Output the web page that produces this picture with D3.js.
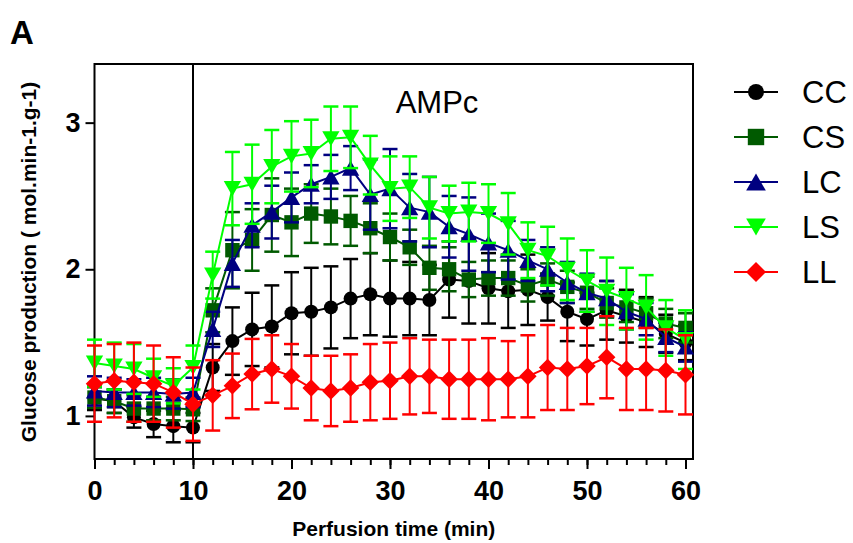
<!DOCTYPE html>
<html>
<head>
<meta charset="utf-8">
<script src="https://cdn.jsdelivr.net/npm/d3@7"></script>
<style>
  html, body { margin: 0; padding: 0; background: #fff; }
  svg { display: block; font-family: "Liberation Sans", Arial, sans-serif; }
</style>
</head>
<body>
<svg id="chart" width="853" height="543"></svg>
<script>
// ---- data ----
const time = [0,2,4,6,8,10,12,14,16,18,20,22,24,26,28,30,32,34,36,38,40,42,44,46,48,50,52,54,56,58,60];

const CC     = [1.12,1.10,0.99,0.945,0.93,0.92,1.33,1.51,1.59,1.61,1.70,1.71,1.74,1.80,1.83,1.80,1.80,1.79,1.93,1.92,1.87,1.85,1.86,1.81,1.71,1.66,1.72,1.68,1.64,1.56,1.50];
const CC_sem = [0.08,0.08,0.07,0.09,0.11,0.10,0.16,0.23,0.25,0.28,0.28,0.30,0.28,0.27,0.28,0.26,0.25,0.24,0.26,0.29,0.24,0.25,0.24,0.16,0.20,0.18,0.20,0.18,0.17,0.13,0.12];

const CS     = [1.125,1.10,1.05,1.05,1.05,1.045,1.72,2.13,2.20,2.37,2.32,2.38,2.36,2.33,2.28,2.22,2.15,2.01,2.00,1.93,1.94,1.94,1.89,1.93,1.88,1.84,1.77,1.74,1.70,1.63,1.60];
const CS_sem = [0.07,0.08,0.09,0.08,0.08,0.08,0.15,0.26,0.21,0.25,0.23,0.20,0.19,0.17,0.17,0.16,0.12,0.15,0.15,0.12,0.12,0.12,0.11,0.11,0.11,0.11,0.10,0.10,0.10,0.10,0.10];

const LC     = [1.17,1.16,1.16,1.16,1.15,1.16,1.59,2.04,2.30,2.39,2.49,2.58,2.63,2.69,2.51,2.55,2.42,2.39,2.29,2.24,2.18,2.13,2.06,2.00,1.91,1.84,1.80,1.71,1.66,1.535,1.47];
const LC_sem = [0.10,0.10,0.09,0.10,0.10,0.10,0.12,0.16,0.15,0.18,0.17,0.13,0.15,0.15,0.24,0.27,0.23,0.24,0.21,0.25,0.20,0.20,0.14,0.15,0.14,0.13,0.12,0.12,0.11,0.10,0.10];

const LS     = [1.36,1.34,1.32,1.26,1.205,1.33,1.96,2.55,2.58,2.70,2.77,2.79,2.89,2.90,2.71,2.55,2.56,2.42,2.38,2.39,2.38,2.31,2.13,2.09,2.00,1.92,1.85,1.80,1.74,1.60,1.52];
const LS_sem = [0.16,0.16,0.17,0.13,0.12,0.15,0.16,0.25,0.27,0.25,0.24,0.23,0.22,0.21,0.20,0.22,0.21,0.21,0.19,0.20,0.20,0.21,0.19,0.20,0.21,0.21,0.23,0.21,0.22,0.19,0.20];

const LL     = [1.22,1.24,1.23,1.22,1.16,1.08,1.14,1.205,1.285,1.32,1.27,1.19,1.17,1.19,1.23,1.24,1.27,1.27,1.25,1.25,1.25,1.25,1.27,1.33,1.32,1.34,1.40,1.32,1.32,1.31,1.28];
const LL_sem = [0.26,0.25,0.27,0.26,0.24,0.25,0.24,0.22,0.24,0.23,0.22,0.22,0.24,0.23,0.26,0.26,0.26,0.25,0.27,0.27,0.28,0.26,0.28,0.29,0.28,0.26,0.28,0.28,0.28,0.28,0.27];

const seriesNames  = ["CC","CS","LC","LS","LL"];
const seriesColors = ["#000000","#005a00","#000080","#00ff00","#ff0000"];
const seriesShapes = ["circle","square","triUp","triDown","diamond"];
const seriesMeans  = [CC, CS, LC, LS, LL];
const seriesSems   = [CC_sem, CS_sem, LC_sem, LS_sem, LL_sem];

const xMajorTicks = [0,10,20,30,40,50,60];
const yTicks = [1,2,3];
const panelLabel = "A";
const annotation = "AMPc";
const xTitle = "Perfusion time (min)";
const yTitle = "Glucose production ( mol.min-1.g-1)";
const markerLineAt = 10;

// ---- layout ----
const svg = d3.select("#chart");
const box = {left: 94.5, right: 693, top: 64, bottom: 459};
const x = d3.scaleLinear().domain([0, 60]).range([94.5, 685.5]);
const y = d3.scaleLinear().domain([0.706, 3.4]).range([box.bottom, box.top]);

function markerPath(shape, s) {
  switch (shape) {
    case "circle": { const r = s; return `M${-r},0A${r},${r} 0 1,0 ${r},0A${r},${r} 0 1,0 ${-r},0Z`; }
    case "square": { const h = s; return `M${-h},${-h}H${h}V${h}H${-h}Z`; }
    case "triUp": { const w = s*1.2, h = s*1.05; return `M0,${-h}L${w},${h}L${-w},${h}Z`; }
    case "triDown": { const w = s*1.2, h = s*1.05; return `M0,${h}L${w},${-h}L${-w},${-h}Z`; }
    case "diamond": { const d = s*1.25; return `M0,${-d}L${d},0L0,${d}L${-d},0Z`; }
  }
}
const markerSize = {circle: 7, square: 7.2, triUp: 7.2, triDown: 7.2, diamond: 7};

// frame
svg.append("rect")
  .attr("x", box.left).attr("y", box.top)
  .attr("width", box.right - box.left).attr("height", box.bottom - box.top)
  .attr("fill", "none").attr("stroke", "#000").attr("stroke-width", 2);

// x axis minor ticks
const minorAxis = d3.axisBottom(x).tickValues(time).tickSize(6).tickFormat("");
svg.append("g").attr("transform", `translate(0,${box.bottom})`).call(minorAxis)
  .call(g => g.select(".domain").remove())
  .call(g => g.selectAll("line").attr("stroke-width", 2));
// x axis major ticks + labels
const majorAxis = d3.axisBottom(x).tickValues(xMajorTicks).tickSize(10).tickPadding(12).tickFormat(d3.format("d"));
svg.append("g").attr("transform", `translate(0,${box.bottom})`).call(majorAxis)
  .call(g => g.select(".domain").remove())
  .call(g => g.selectAll("line").attr("stroke-width", 2))
  .call(g => g.selectAll("text").attr("font-size", 27).attr("font-weight", "bold")
      .attr("font-family", "'Liberation Sans', Arial, sans-serif").attr("fill", "#000"));

// y axis
const yAxis = d3.axisLeft(y).tickValues(yTicks).tickSize(9).tickPadding(5).tickFormat(d3.format("d"));
svg.append("g").attr("transform", `translate(${box.left},0)`).call(yAxis)
  .call(g => g.select(".domain").remove())
  .call(g => g.selectAll("line").attr("stroke-width", 2))
  .call(g => g.selectAll("text").attr("font-size", 27).attr("font-weight", "bold")
      .attr("font-family", "'Liberation Sans', Arial, sans-serif").attr("fill", "#000"));

// vertical line at 10 min
svg.append("line")
  .attr("x1", x(markerLineAt)).attr("x2", x(markerLineAt))
  .attr("y1", box.top).attr("y2", box.bottom)
  .attr("stroke", "#000").attr("stroke-width", 2);

// series
const line = d3.line().x(d => x(d.t)).y(d => y(d.v));
seriesNames.forEach((name, i) => {
  const data = time.map((t, k) => ({t, v: seriesMeans[i][k], e: seriesSems[i][k]}));
  const g = svg.append("g").attr("class", "series-" + name);
  const col = seriesColors[i];
  const eb = g.append("g");
  data.forEach(d => {
    eb.append("line").attr("x1", x(d.t)).attr("x2", x(d.t))
      .attr("y1", y(d.v + d.e)).attr("y2", y(d.v - d.e))
      .attr("stroke", col).attr("stroke-width", 2);
    [d.v + d.e, d.v - d.e].forEach(v => {
      eb.append("line").attr("x1", x(d.t) - 7.5).attr("x2", x(d.t) + 7.5)
        .attr("y1", y(v)).attr("y2", y(v))
        .attr("stroke", col).attr("stroke-width", 2.5);
    });
  });
  g.append("path").datum(data).attr("d", line)
    .attr("fill", "none").attr("stroke", col).attr("stroke-width", 2);
  g.selectAll("path.mk").data(data).join("path").attr("class", "mk")
    .attr("d", markerPath(seriesShapes[i], markerSize[seriesShapes[i]]))
    .attr("transform", d => `translate(${x(d.t)},${y(d.v)})`)
    .attr("fill", col);
});

// annotation
svg.append("text").attr("x", 437).attr("y", 113).attr("text-anchor", "middle")
  .attr("font-size", 31).attr("fill", "#000").text(annotation);

// legend
const lg = svg.append("g");
seriesNames.forEach((name, i) => {
  const cy = 92 + i * 45;
  lg.append("line").attr("x1", 734).attr("x2", 778).attr("y1", cy).attr("y2", cy)
    .attr("stroke", seriesColors[i]).attr("stroke-width", 2);
  lg.append("path").attr("d", markerPath(seriesShapes[i], markerSize[seriesShapes[i]] + 1))
    .attr("transform", `translate(756,${cy})`).attr("fill", seriesColors[i]);
  lg.append("text").attr("x", 802).attr("y", cy + 11).attr("font-size", 31)
    .attr("fill", "#000").text(name);
});

// titles
svg.append("text").attr("x", (94.5 + 693) / 2).attr("y", 536).attr("text-anchor", "middle")
  .attr("font-size", 21).attr("font-weight", "bold").text(xTitle);
svg.append("text").attr("transform", "translate(36,262) rotate(-90)").attr("text-anchor", "middle")
  .attr("font-size", 21).attr("font-weight", "bold").text(yTitle);
svg.append("text").attr("x", 10).attr("y", 44).attr("font-size", 33).attr("font-weight", "bold").text(panelLabel);
</script>
</body>
</html>
